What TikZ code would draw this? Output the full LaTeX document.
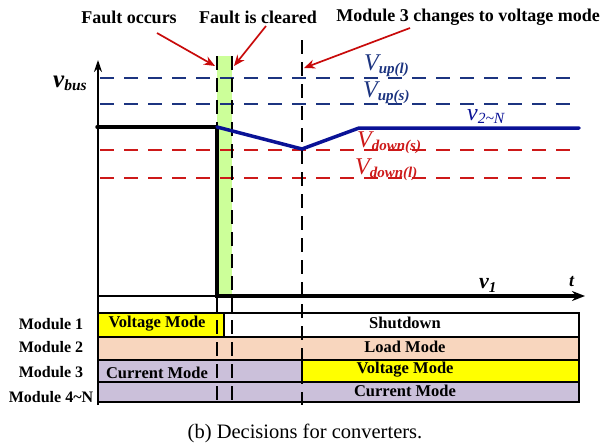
\documentclass[tikz,border=0pt]{standalone}
\usepackage{fontspec}
\setmainfont{Liberation Serif}
\usetikzlibrary{arrows.meta}
\definecolor{navyd}{RGB}{28,52,128}
\definecolor{redd}{RGB}{205,25,25}
\definecolor{arrowred}{RGB}{200,10,10}
\definecolor{bluev}{RGB}{10,18,150}
\definecolor{peach}{RGB}{248,214,190}
\definecolor{lav}{RGB}{203,192,218}
\definecolor{ylw}{RGB}{255,255,0}
\definecolor{grn}{RGB}{204,255,153}
\newcommand{\biglab}[3]{{\fontsize{#3}{#3}\selectfont\itshape #1}\raisebox{-3pt}{\fontsize{15}{15}\selectfont\bfseries\itshape #2}}
\begin{document}
\begin{tikzpicture}[x=1pt,y=-1pt,
  title/.style={font=\fontsize{18}{18}\selectfont\bfseries, inner sep=0},
  modlabel/.style={font=\fontsize{16}{16}\selectfont\bfseries, inner sep=0},
  cell/.style={draw=black, line width=1.5pt},
  celltext/.style={font=\fontsize{16.5}{16.5}\selectfont\bfseries, inner sep=0},
  redarrow/.style={draw=arrowred, line width=1.7pt, -{Stealth[length=11pt,width=9pt]}},
  bluedash/.style={draw=navyd, line width=1.4pt, dash pattern=on 14pt off 10pt},
  reddash/.style={draw=redd, line width=1.4pt, dash pattern=on 14pt off 10pt},
  blackdash/.style={draw=black, line width=1.4pt, dash pattern=on 14pt off 8pt},
  thickline/.style={line width=3.5pt},
  lab/.style={inner sep=0, anchor=base west},
]
\useasboundingbox (0,0) rectangle (602,447);
% green band
\fill[grn] (217,56) rectangle (232,296);
% table
\draw[cell, fill=ylw] (98,313) rectangle (224,337);
\draw[cell, fill=white] (224,313) rectangle (579,337);
\draw[cell, fill=peach] (98,337) rectangle (579,360);
\draw[cell, fill=lav] (98,360) rectangle (302,382);
\draw[cell, fill=ylw] (302,360) rectangle (579,382);
\draw[cell, fill=lav] (98,382) rectangle (579,402);
% horizontal thresholds
\draw[bluedash] (100,78) -- (580,78);
\draw[bluedash] (100,104) -- (580,104);
\draw[reddash] (100,150) -- (580,150);
\draw[reddash] (100,178) -- (580,178);
% vertical dashed markers
\draw[blackdash] (217,56) -- (217,405);
\draw[blackdash] (232,56) -- (232,405);
\draw[blackdash] (302,40) -- (302,405);
% axes
\draw[line width=1.4pt, -{Stealth[length=12pt,width=8pt]}] (98,405) -- (98,60);
\draw[line width=1.4pt] (98,296) -- (217,296);
% v1 (black thick)
\draw[thickline, line cap=round] (97,127) -- (217,127);
\draw[thickline, -{Stealth[length=13pt,width=10pt]}] (217,127) -- (217,296) -- (585,296);
% v2~N (blue)
\draw[thickline, bluev, line cap=round, line join=round] (217,127) -- (302,149) -- (359,128) -- (579,128);
% titles and arrows
\node[title] (fo) at (129,17) {Fault occurs};
\node[title] (fc) at (258,17) {Fault is cleared};
\node[title] (m3) at (468,17) {Module 3 changes to voltage mode};
\coordinate (fos) at (157,33);
\coordinate (fot) at (215,66);
\coordinate (fcs) at (266,26);
\coordinate (fct) at (234,66);
\coordinate (m3s) at (410,28);
\coordinate (m3t) at (304,68);
\draw[redarrow] (fos) -- (fot);
\draw[redarrow] (fcs) -- (fct);
\draw[redarrow] (m3s) -- (m3t);
% value labels
\node[lab, text=navyd] (vupl) at (364,70) {\biglab{V}{up(l)}{24}};
\node[lab, text=navyd] (vups) at (363,97) {\biglab{V}{up(s)}{24}};
\node[lab, text=redd] (vdns) at (357,147) {\biglab{V}{down(s)}{24}};
\node[lab, text=redd] (vdnl) at (355,174) {\biglab{V}{down(l)}{24}};
\node[lab, text=bluev] (v2n) at (467,120) {{\fontsize{24}{24}\selectfont\itshape v}\raisebox{-3pt}{\fontsize{15.5}{15.5}\selectfont\itshape 2\textasciitilde N}};
\node[lab] (vbus) at (53,87) {{\fontsize{25}{25}\selectfont\bfseries\itshape v}\raisebox{-3pt}{\fontsize{15.5}{15.5}\selectfont\bfseries\itshape bus}};
\node[lab] (v1) at (479,288) {{\fontsize{22}{22}\selectfont\bfseries\itshape v}\raisebox{-4pt}{\fontsize{15}{15}\selectfont\bfseries\itshape 1}};
\node[lab] (t) at (569,286) {\fontsize{18}{18}\selectfont\bfseries\itshape t};
% module labels
\node[modlabel] (m1) at (51,324) {Module 1};
\node[modlabel] (m2) at (51,347) {Module 2};
\node[modlabel] (m3l) at (51,372) {Module 3};
\node[modlabel] (m4) at (51,397) {Module 4\textasciitilde N};
% cell texts
\node[celltext] (c1a) at (157,324) {Voltage Mode};
\node[celltext] (c1b) at (405,323) {Shutdown};
\node[celltext] (c2) at (405,347) {Load Mode};
\node[celltext] (c3a) at (157,373) {Current Mode};
\node[celltext] (c3b) at (405,370) {Voltage Mode};
\node[celltext] (c4) at (405,391) {Current Mode};
% caption
\node[inner sep=0, font=\fontsize{20.5}{20.5}\selectfont] (cap) at (305,433) {(b) Decisions for converters.};
\end{tikzpicture}
\end{document}
